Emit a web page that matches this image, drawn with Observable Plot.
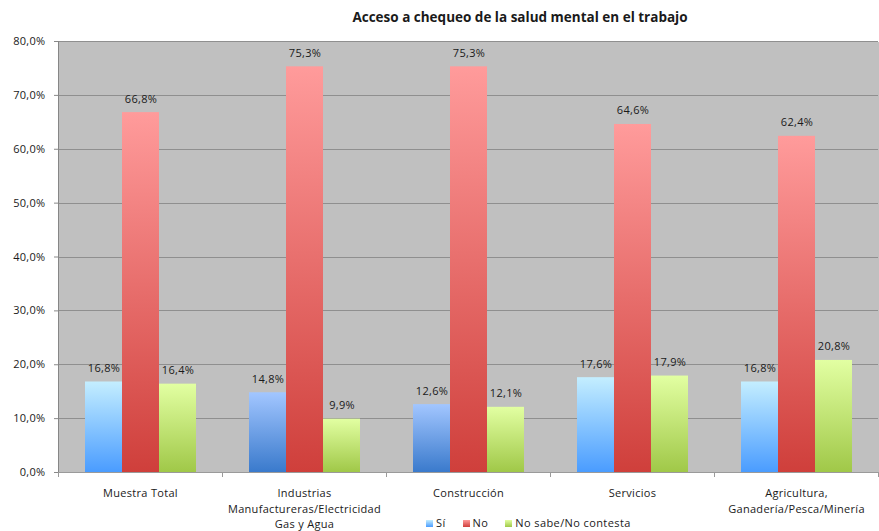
<!DOCTYPE html>
<html>
<head>
<meta charset="utf-8">
<script src="https://cdn.jsdelivr.net/npm/d3@7"></script>
<script src="https://cdn.jsdelivr.net/npm/@observablehq/plot@0.6"></script>
<style>
  body { margin: 0; background: #fff; font-family: "Open Sans", Lato, sans-serif; color: #1a1a1a; }
  #wrap { position: relative; width: 879px; height: 531px; overflow: hidden; background: #fff; }
  #title { position: absolute; top: 7px; left: 161px; width: 718px; text-align: center; font-weight: bold; font-size: 13.5px; line-height: 20px; }
  #chart { position: absolute; top: 30px; left: 0; }
  #chart svg text { letter-spacing: 0.3px; }
  #legend { position: absolute; top: 515px; left: 426px; font-size: 11px; line-height: 16px; white-space: nowrap; letter-spacing: 0.4px; }
  #legend span.item { display: inline-block; margin-right: 17px; }
  #legend span.sw { display: inline-block; width: 7px; height: 7px; margin-right: 3px; vertical-align: 0px; }
</style>
</head>
<body>
<div id="wrap">
  <div id="title">Acceso a chequeo de la salud mental en el trabajo</div>
  <div id="chart"></div>
  <div id="legend"></div>
</div>
<script>
const categories = [
  "Muestra Total",
  "Industrias\nManufactureras/Electricidad\nGas y Agua",
  "Construcción",
  "Servicios",
  "Agricultura,\nGanadería/Pesca/Minería"
];
const seriesNames = ["Sí", "No", "No sabe/No contesta"];
const valuesSi = [16.8, 14.8, 12.6, 17.6, 16.8];
const valuesNo = [66.8, 75.3, 75.3, 64.6, 62.4];
const valuesNs = [16.4, 9.9, 12.1, 17.9, 20.8];
const yTicks = [0, 10, 20, 30, 40, 50, 60, 70, 80];

const rows = categories.flatMap((c, i) => [
  {cat: c, serie: seriesNames[0], value: valuesSi[i]},
  {cat: c, serie: seriesNames[1], value: valuesNo[i]},
  {cat: c, serie: seriesNames[2], value: valuesNs[i]}
]);

const fmt = v => v.toFixed(1).replace(".", ",") + "%";
const darkSi = new Set([categories[1], categories[2]]);
const gradOf = d => d.serie === seriesNames[0]
  ? (darkSi.has(d.cat) ? "url(#gSi2)" : "url(#gSi)")
  : d.serie === seriesNames[1] ? "url(#gNo)" : "url(#gNs)";

const font = "'Open Sans', Lato, sans-serif";

const chart = Plot.plot({
  width: 879,
  height: 501,
  marginTop: 11,
  marginLeft: 56,
  marginRight: 0,
  marginBottom: 59,
  style: {fontFamily: font, fontSize: "11px", color: "#1a1a1a", background: "transparent"},
  fx: {domain: categories, padding: 0, label: null},
  x: {domain: seriesNames, paddingInner: 0, paddingOuter: 0.71, axis: null},
  y: {domain: [0, 80], ticks: yTicks, label: null},
  color: {type: "identity"},
  marks: [
    Plot.frame({fill: "#c0c0c0", stroke: "none", shapeRendering: "crispEdges"}),
    Plot.gridY(yTicks, {stroke: "#8f8f8f", strokeOpacity: 1, shapeRendering: "crispEdges"}),
    Plot.axisY(yTicks, {tickFormat: fmt, tickSize: 4, tickPadding: 9, stroke: "#888", fill: "#1a1a1a", fontSize: 11, label: null}),
    Plot.axisFx({anchor: "bottom", tickSize: 0, tickPadding: 14, lineHeight: 1.4, fontSize: 11, fill: "#1a1a1a", label: null}),
    Plot.barY(rows, {fx: "cat", x: "serie", y: "value", fill: gradOf}),
    Plot.text(rows, {fx: "cat", x: "serie", y: "value", text: d => fmt(d.value), dy: -10, lineAnchor: "bottom", fontSize: 11, fill: "#1a1a1a"})
  ]
});

document.getElementById("chart").appendChild(chart);

// gradients
const svg = d3.select(chart);
const defs = svg.insert("defs", ":first-child");
function grad(id, top, bottom) {
  const g = defs.append("linearGradient").attr("id", id)
    .attr("x1", 0).attr("y1", 0).attr("x2", 0).attr("y2", 1);
  g.append("stop").attr("offset", 0).attr("stop-color", top);
  g.append("stop").attr("offset", 1).attr("stop-color", bottom);
}
grad("gSi", "#c4eeff", "#4a9cff");
grad("gSi2", "#a2c6ff", "#3a7acc");
grad("gNo", "#ff9b9b", "#cf3f3b");
grad("gNs", "#e2ffa2", "#a0c848");

// axis lines and category boundary ticks, positioned from Plot's scales
const fx = chart.scale("fx");
const y = chart.scale("y");
const y0 = y.apply(0), y1 = y.apply(80);
const xs = categories.map(c => fx.apply(c));
xs.push(fx.apply(categories[categories.length - 1]) + fx.bandwidth);
const g = svg.append("g");
g.append("line").attr("x1", xs[0]).attr("x2", xs[xs.length - 1]).attr("y1", y0).attr("y2", y0)
  .attr("stroke", "#9a9a9a").attr("shape-rendering", "crispEdges");
g.append("line").attr("x1", xs[0]).attr("x2", xs[0]).attr("y1", y1).attr("y2", y0)
  .attr("stroke", "#868686").attr("shape-rendering", "crispEdges");
xs.forEach(x => g.append("line").attr("x1", x).attr("x2", x).attr("y1", y0).attr("y2", y0 + 5)
  .attr("stroke", "#9a9a9a").attr("shape-rendering", "crispEdges"));

// legend
const legendColors = [["#c4eeff", "#4a9cff"], ["#ff9b9b", "#cf3f3b"], ["#e2ffa2", "#a0c848"]];
const legend = document.getElementById("legend");
seriesNames.forEach((s, i) => {
  const item = document.createElement("span");
  item.className = "item";
  const sw = document.createElement("span");
  sw.className = "sw";
  sw.style.background = `linear-gradient(${legendColors[i][0]}, ${legendColors[i][1]})`;
  item.appendChild(sw);
  item.appendChild(document.createTextNode(s));
  legend.appendChild(item);
});
</script>
</body>
</html>
